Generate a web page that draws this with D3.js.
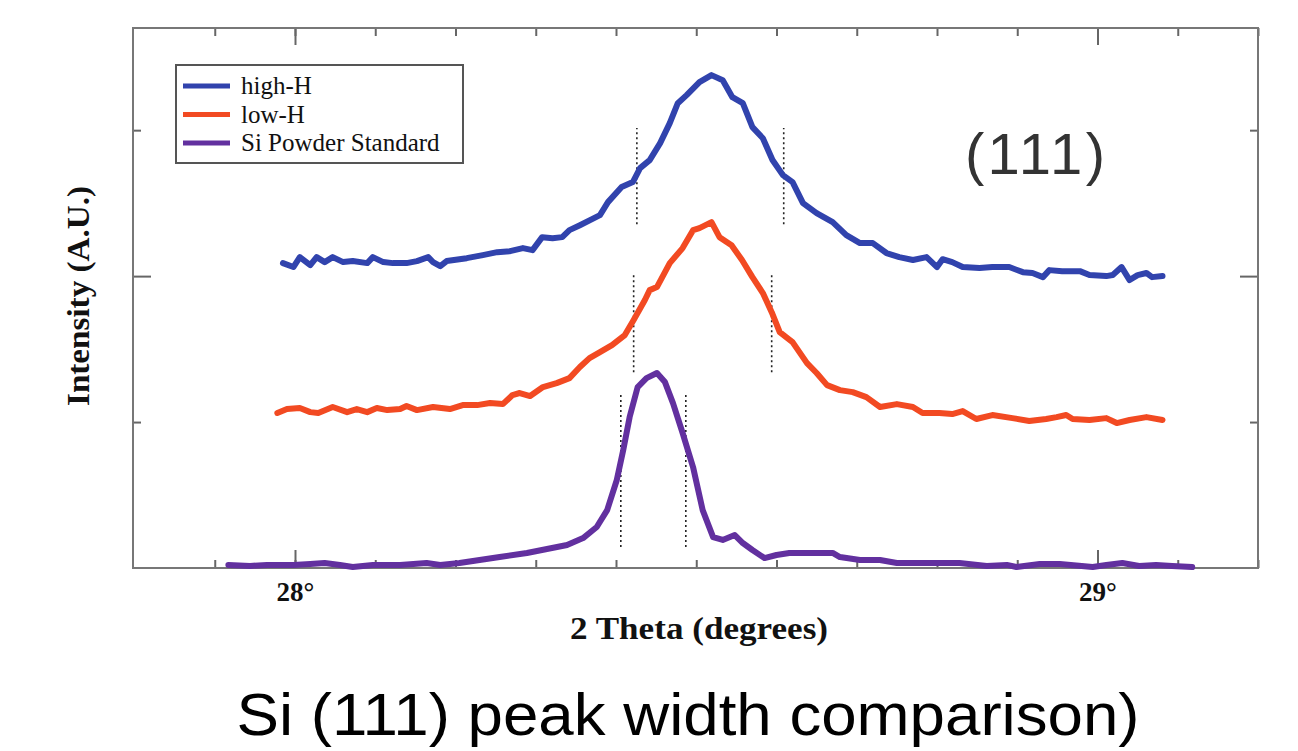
<!DOCTYPE html>
<head>
  <meta charset="utf-8">
  <script src="https://d3js.org/d3.v7.min.js"></script>
  <style>
    body { margin:0; background:#fff; }
    .frame { fill:none; stroke:#777; stroke-width:2px; }
    .tick line { stroke:#666; stroke-width:2px; }
    .serif { font-family:"Liberation Serif","DejaVu Serif",serif; fill:#111; }
    .curve { fill:none; stroke-width:6px; stroke-linejoin:round; stroke-linecap:round; }
  </style>
</head>
<body>
<script>
// 2-theta (deg) / intensity (A.U., offset stacked)
var highH_x = [27.985,27.998,28.006,28.019,28.027,28.037,28.047,28.060,28.072,28.090,28.097,28.110,28.122,28.139,28.152,28.166,28.172,28.181,28.189,28.214,28.234,28.252,28.268,28.284,28.296,28.308,28.321,28.333,28.342,28.355,28.380,28.390,28.407,28.421,28.430,28.442,28.455,28.467,28.477,28.488,28.504,28.519,28.533,28.545,28.558,28.570,28.583,28.595,28.608,28.620,28.633,28.650,28.670,28.687,28.704,28.720,28.737,28.753,28.770,28.787,28.800,28.807,28.819,28.832,28.853,28.869,28.890,28.907,28.919,28.932,28.940,28.956,28.978,28.990,29.011,29.019,29.030,29.040,29.050,29.061,29.068,29.081];
var highH_y = [2.089,2.062,2.130,2.075,2.130,2.096,2.130,2.096,2.103,2.089,2.130,2.096,2.089,2.089,2.103,2.130,2.096,2.068,2.103,2.123,2.144,2.164,2.171,2.192,2.178,2.267,2.260,2.267,2.315,2.349,2.418,2.507,2.610,2.644,2.740,2.795,2.911,3.048,3.185,3.240,3.329,3.377,3.342,3.226,3.185,3.021,2.945,2.795,2.692,2.644,2.500,2.432,2.370,2.281,2.226,2.226,2.158,2.130,2.110,2.130,2.062,2.116,2.096,2.062,2.055,2.062,2.062,2.027,2.021,1.993,2.041,2.034,2.034,2.007,2.000,2.007,2.062,1.973,2.007,2.021,1.993,2.000];

var lowH_x = [27.978,27.990,28.006,28.019,28.029,28.047,28.065,28.077,28.090,28.102,28.115,28.131,28.139,28.152,28.172,28.193,28.209,28.227,28.243,28.259,28.271,28.280,28.293,28.309,28.326,28.342,28.355,28.367,28.380,28.395,28.411,28.422,28.436,28.442,28.451,28.467,28.483,28.496,28.504,28.519,28.529,28.544,28.557,28.570,28.583,28.594,28.604,28.620,28.638,28.650,28.663,28.679,28.695,28.712,28.729,28.750,28.770,28.782,28.803,28.819,28.832,28.849,28.869,28.894,28.915,28.936,28.949,28.961,28.969,28.990,29.011,29.024,29.040,29.061,29.081];
var lowH_y = [1.062,1.089,1.096,1.068,1.062,1.103,1.068,1.089,1.068,1.096,1.082,1.089,1.110,1.082,1.103,1.089,1.116,1.116,1.130,1.123,1.185,1.199,1.178,1.240,1.267,1.301,1.377,1.438,1.479,1.527,1.596,1.699,1.836,1.904,1.925,2.089,2.192,2.315,2.329,2.370,2.267,2.212,2.110,1.993,1.884,1.753,1.616,1.548,1.404,1.336,1.253,1.219,1.205,1.171,1.103,1.123,1.103,1.062,1.062,1.055,1.075,1.021,1.048,1.027,1.007,1.021,1.034,1.048,1.021,1.014,1.027,0.993,1.014,1.034,1.014];

var siStd_x = [27.917,27.944,27.965,27.998,28.019,28.037,28.056,28.072,28.097,28.131,28.164,28.181,28.205,28.230,28.255,28.289,28.314,28.339,28.359,28.376,28.389,28.401,28.409,28.417,28.427,28.438,28.451,28.461,28.471,28.483,28.496,28.508,28.521,28.533,28.548,28.558,28.570,28.585,28.600,28.616,28.650,28.670,28.679,28.704,28.729,28.750,28.770,28.803,28.828,28.862,28.887,28.899,28.928,28.953,28.994,29.011,29.031,29.052,29.073,29.093,29.118];
var siStd_y = [0.021,0.014,0.021,0.021,0.027,0.034,0.021,0.007,0.021,0.021,0.034,0.021,0.034,0.055,0.075,0.103,0.130,0.158,0.205,0.281,0.397,0.603,0.808,1.034,1.240,1.301,1.336,1.274,1.130,0.925,0.692,0.397,0.212,0.192,0.226,0.171,0.123,0.068,0.089,0.103,0.103,0.103,0.075,0.055,0.055,0.034,0.034,0.034,0.034,0.014,0.021,0.007,0.027,0.027,0.007,0.021,0.034,0.014,0.021,0.014,0.007];

// FWHM markers (dotted verticals)
var fwhm_x  = [28.426, 28.609, 28.422, 28.594, 28.406, 28.487];
var fwhm_y0 = [2.356, 2.356, 1.342, 1.342, 0.144, 0.144];
var fwhm_y1 = [3.014, 3.014, 2.007, 2.007, 1.205, 1.205];

var seriesNames = ["high-H", "low-H", "Si Powder Standard"];
var seriesColors = ["#3143ad", "#f24a22", "#62309f"];
var xMinorTicks = d3.range(27.9, 29.2, 0.1).map(function(d){ return +d.toFixed(1); });
var xMajorTicks = [28, 29];
var yMinorTicks = [1, 3];
var yMajorTicks = [2];

var W = 1298, H = 751;
var svg = d3.select("body").append("svg").attr("width", W).attr("height", H);

var x = d3.scaleLinear().domain([27.8, 29.2]).range([134.5, 1258]);
var y = d3.scaleLinear().domain([0, 3.7]).range([568, 28]);

function zip(xs, ys) { return xs.map(function(v, i){ return [v, ys[i]]; }); }
var series = [zip(highH_x, highH_y), zip(lowH_x, lowH_y), zip(siStd_x, siStd_y)];

// axes with inward ticks
function noDomain(g) { g.select(".domain").remove(); }
svg.append("g").attr("transform", "translate(0,568)")
  .call(d3.axisBottom(x).tickValues(xMinorTicks).tickSize(-8).tickFormat("")).call(noDomain);
svg.append("g").attr("transform", "translate(0,28)")
  .call(d3.axisTop(x).tickValues(xMinorTicks).tickSize(-8).tickFormat("")).call(noDomain);
svg.append("g").attr("transform", "translate(0,28)")
  .call(d3.axisTop(x).tickValues(xMajorTicks).tickSize(-17).tickFormat("")).call(noDomain);
var xb = svg.append("g").attr("transform", "translate(0,568)")
  .call(d3.axisBottom(x).tickValues(xMajorTicks).tickSize(-18).tickPadding(14)
    .tickFormat(function(d){ return d + "\u00b0"; })).call(noDomain);
xb.selectAll("text").attr("class", "serif").style("font-size", "27px").style("font-weight", "bold")
  .attr("fill", "#111");

[[133, d3.axisLeft, -1], [1258, d3.axisRight, -1]].forEach(function(a) {
  svg.append("g").attr("transform", "translate(" + a[0] + ",0)")
    .call(a[1](y).tickValues(yMinorTicks).tickSize(-8).tickFormat("")).call(noDomain);
  svg.append("g").attr("transform", "translate(" + a[0] + ",0)")
    .call(a[1](y).tickValues(yMajorTicks).tickSize(-18).tickFormat("")).call(noDomain);
});

svg.append("rect").attr("class", "frame")
  .attr("x", 133).attr("y", 28).attr("width", 1258 - 133).attr("height", 568 - 28);

// dotted FWHM lines
svg.selectAll(".fwhm").data(fwhm_x).enter().append("line")
  .attr("class", "fwhm")
  .attr("x1", function(d){ return x(d); }).attr("x2", function(d){ return x(d); })
  .attr("y1", function(d, i){ return y(fwhm_y0[i]); })
  .attr("y2", function(d, i){ return y(fwhm_y1[i]); })
  .attr("stroke", "#222").attr("stroke-width", 1.6)
  .style("stroke-dasharray", "2,3");

var line = d3.line().x(function(d){ return x(d[0]); }).y(function(d){ return y(d[1]); });

svg.selectAll(".curve").data(series).enter().append("path")
  .attr("class", "curve")
  .attr("d", line)
  .attr("stroke", function(d, i){ return seriesColors[i]; });

// legend
var lg = svg.append("g");
lg.append("rect").attr("x", 176).attr("y", 65).attr("width", 287).attr("height", 98)
  .attr("fill", "#fff").attr("stroke", "#555").attr("stroke-width", 2);
seriesNames.forEach(function(name, i) {
  var yy = 86 + i * 28.5;
  lg.append("line").attr("x1", 183).attr("x2", 230).attr("y1", yy).attr("y2", yy)
    .attr("stroke", seriesColors[i]).attr("stroke-width", 5);
  lg.append("text").attr("class", "serif").attr("x", 241).attr("y", yy + 8)
    .style("font-size", "25px").attr("fill", "#222").text(name);
});

// labels
svg.append("text").attr("x", 1035).attr("y", 174)
  .attr("text-anchor", "middle")
  .style("font-family", "'Liberation Sans', Arial, sans-serif").style("font-size", "58px")
  .attr("fill", "#333").attr("textLength", 140).attr("lengthAdjust", "spacing")
  .text("(111)");

svg.append("text").attr("class", "serif")
  .attr("x", 699).attr("y", 639).attr("text-anchor", "middle")
  .style("font-size", "31px").style("font-weight", "bold")
  .attr("textLength", 258).attr("lengthAdjust", "spacingAndGlyphs")
  .text("2 Theta (degrees)");

svg.append("text").attr("class", "serif")
  .attr("transform", "translate(89,296) rotate(-90)").attr("text-anchor", "middle")
  .style("font-size", "31px").style("font-weight", "bold")
  .attr("textLength", 220).attr("lengthAdjust", "spacingAndGlyphs")
  .text("Intensity (A.U.)");

svg.append("text").attr("x", 688).attr("y", 735).attr("text-anchor", "middle")
  .style("font-family", "'Liberation Sans', Arial, sans-serif").style("font-size", "60px")
  .attr("fill", "#000").attr("textLength", 903).attr("lengthAdjust", "spacingAndGlyphs")
  .text("Si (111) peak width comparison)");
</script>
</body>
